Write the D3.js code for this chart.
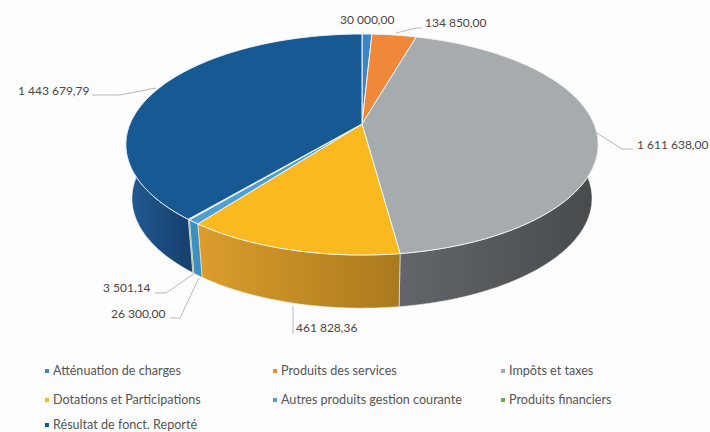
<!DOCTYPE html>
<html lang="fr">
<head>
<meta charset="UTF-8">
<title>Pie 3D</title>
<script src="https://cdn.jsdelivr.net/npm/d3@7"></script>
<style>
    html, body { margin: 0; padding: 0; background: #fdfdfd; overflow: hidden; }
    text { font-family: Lato, "Open Sans", sans-serif; }
</style>
</head>
<body>
<script>
    // data
    const categories = ["Atténuation de charges", "Produits des services", "Impôts et taxes",
        "Dotations et Participations", "Autres produits gestion courante", "Produits financiers",
        "Résultat de fonct. Reporté"];
    const values = [30000, 134850, 1611638, 461828.36, 26300, 3501.14, 1443679.79];
    const labels = ["30 000,00", "134 850,00", "1 611 638,00", "461 828,36", "26 300,00", "3 501,14", "1 443 679,79"];

    const topColours = ["#3a86c6", "#f0883a", "#a6abae", "#fbb920", "#4f9fd2", "#72ad4c", "#175a93"];
    const sideLeft = ["#2f6fa5", "#c06c2c", "#62666a", "#dc9d2c", "#3d8fc0", "#5a8a3c", "#215a90"];
    const sideRight = ["#2f6fa5", "#c06c2c", "#484b4d", "#a97a1e", "#3d8fc0", "#5a8a3c", "#16406f"];

    // layout, label position + leader line for each slice
    const labelX = [340, 425, 637, 296, 111, 103, 18];
    const labelY = [24, 27, 149, 332, 318, 292, 95];
    const leaders = [
        null,
        [[396, 33], [416, 28], [422, 28]],
        [[597, 133], [622, 149], [633, 149]],
        [[293, 306], [293, 334]],
        [[170, 318], [180, 318], [199, 278]],
        [[155, 293], [166, 293], [195, 273]],
        [[92, 95], [120, 95], [156, 88]]
    ];
    const legendX = [45, 273, 501];
    const legendY = [371, 400, 425];

    const width = 710, height = 432;
    const cx = 362, persp = 0.1855;

    // perspective projection of a circle onto the page, one per rim
    function rim(a, b, y0) {
        return function (t) {
            const u = Math.sin(t), v = Math.cos(t), w = 1 + persp * v;
            return [cx + a * u / w, y0 - b * v / w];
        };
    }
    const topRim = rim(232, 106.7, 124);
    const bottomRim = rim(226, 106, 178);

    function arcPoints(proj, a, b) {
        const n = Math.max(2, Math.ceil((b - a) / 0.01));
        return d3.range(n + 1).map(i => proj(a + (b - a) * i / n));
    }

    const svg = d3.select("body").append("svg")
        .attr("width", width)
        .attr("height", height);

    const arcs = d3.pie().sort(null)(values);
    const line = d3.line();

    // horizontal gradients for the walls
    const defs = svg.append("defs");
    arcs.forEach((d, i) => {
        const lo = Math.max(d.startAngle, Math.PI / 2), hi = Math.min(d.endAngle, Math.PI * 1.5);
        if (hi <= lo) return;
        const x0 = topRim(lo)[0], x1 = topRim(hi)[0];
        const g = defs.append("linearGradient")
            .attr("id", "side" + i)
            .attr("gradientUnits", "userSpaceOnUse")
            .attr("x1", Math.min(x0, x1)).attr("x2", Math.max(x0, x1))
            .attr("y1", 0).attr("y2", 0);
        g.append("stop").attr("offset", 0).attr("stop-color", sideLeft[i]);
        g.append("stop").attr("offset", 1).attr("stop-color", sideRight[i]);
    });

    // walls, only the front half shows
    svg.append("g").selectAll("path")
        .data(arcs.filter(d => Math.min(d.endAngle, Math.PI * 1.5) > Math.max(d.startAngle, Math.PI / 2)))
        .join("path")
        .attr("d", d => {
            const lo = Math.max(d.startAngle, Math.PI / 2), hi = Math.min(d.endAngle, Math.PI * 1.5);
            return line(arcPoints(topRim, lo, hi).concat(arcPoints(bottomRim, lo, hi).reverse())) + "Z";
        })
        .attr("fill", d => "url(#side" + d.index + ")")
        .attr("stroke", "#f4efe0")
        .attr("stroke-width", 0.6)
        .attr("stroke-linejoin", "round");

    // top face
    svg.append("g").selectAll("path")
        .data(arcs)
        .join("path")
        .attr("d", d => line([[cx, 124]].concat(arcPoints(topRim, d.startAngle, d.endAngle))) + "Z")
        .attr("fill", d => topColours[d.index])
        .attr("stroke", "#f2f5f8")
        .attr("stroke-width", 1)
        .attr("stroke-linejoin", "round");

    // leader lines
    svg.append("g").selectAll("path")
        .data(leaders.filter(d => d))
        .join("path")
        .attr("d", d => line(d))
        .attr("fill", "none")
        .attr("stroke", "#bdb6b4")
        .attr("stroke-width", 1);

    // value labels
    svg.append("g").selectAll("text")
        .data(labels)
        .join("text")
        .attr("x", (d, i) => labelX[i])
        .attr("y", (d, i) => labelY[i])
        .attr("font-size", 12)
        .attr("fill", "#4a4646")
        .text(d => d);

    // legend, three columns
    const legend = svg.append("g").selectAll("g")
        .data(categories)
        .join("g")
        .attr("transform", (d, i) => "translate(" + legendX[i % 3] + "," + legendY[Math.floor(i / 3)] + ")");
    legend.append("rect")
        .attr("x", 0).attr("y", -2)
        .attr("width", 4).attr("height", 4)
        .attr("fill", (d, i) => topColours[i]);
    legend.append("text")
        .attr("x", 8).attr("y", 4)
        .attr("font-size", 12.6)
        .attr("fill", "#555")
        .text(d => d);
</script>
</body>
</html>
